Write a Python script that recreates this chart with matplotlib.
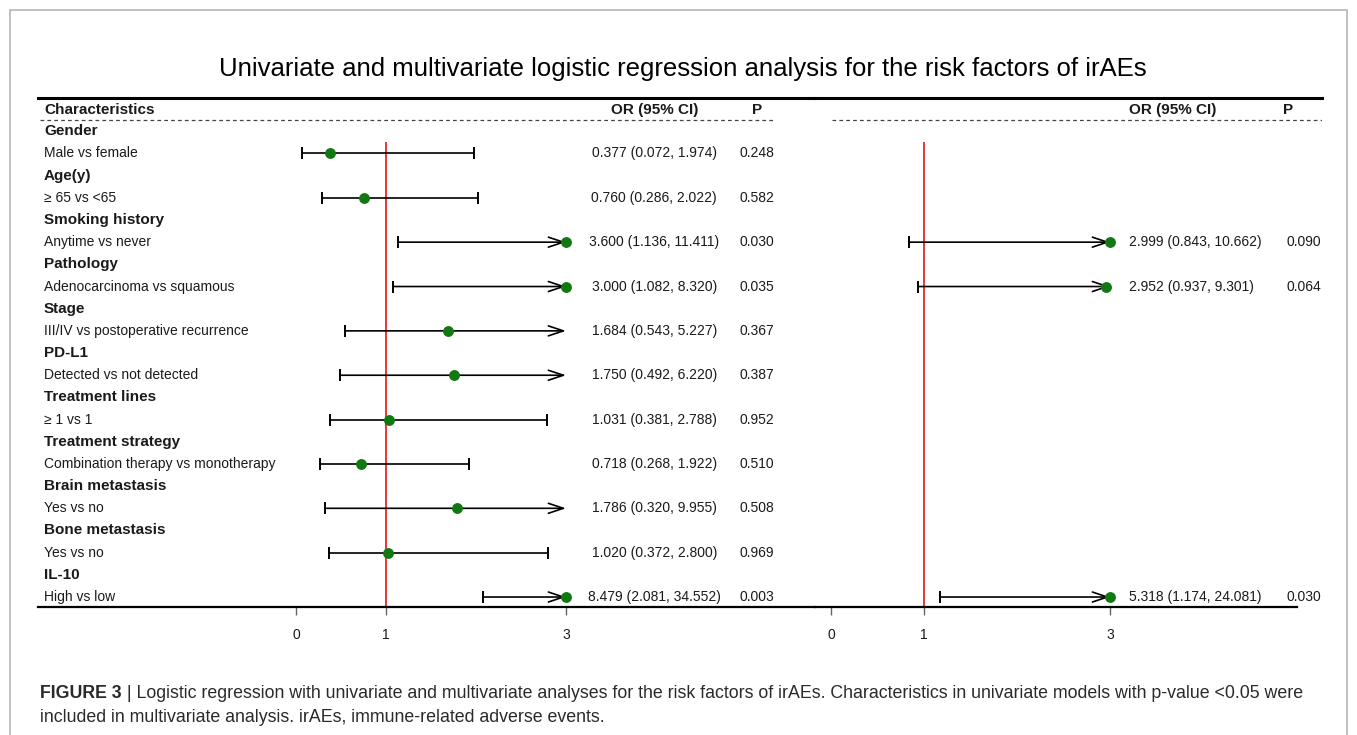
import matplotlib
matplotlib.use("Agg")
import matplotlib.pyplot as plt
from matplotlib import font_manager
from matplotlib.patches import Rectangle

plt.rcParams['font.family'] = ['Liberation Sans', 'DejaVu Sans']

# ---- data ----
groups = ['Gender', 'Age(y)', 'Smoking history', 'Pathology', 'Stage', 'PD-L1',
          'Treatment lines', 'Treatment strategy', 'Brain metastasis',
          'Bone metastasis', 'IL-10']
items = ['Male vs female', '≥ 65 vs <65', 'Anytime vs never',
         'Adenocarcinoma vs squamous', 'III/IV vs postoperative recurrence',
         'Detected vs not detected', '≥ 1 vs 1',
         'Combination therapy vs monotherapy', 'Yes vs no', 'Yes vs no',
         'High vs low']
uni_or = [0.377, 0.760, 3.600, 3.000, 1.684, 1.750, 1.031, 0.718, 1.786, 1.020, 8.479]
uni_lo = [0.072, 0.286, 1.136, 1.082, 0.543, 0.492, 0.381, 0.268, 0.320, 0.372, 2.081]
uni_hi = [1.974, 2.022, 11.411, 8.320, 5.227, 6.220, 2.788, 1.922, 9.955, 2.800, 34.552]
uni_p = ['0.248', '0.582', '0.030', '0.035', '0.367', '0.387', '0.952', '0.510',
         '0.508', '0.969', '0.003']

# multivariate model: only the factors with p < 0.05 in univariate
multi_idx = [2, 3, 10]
multi_or = [2.999, 2.952, 5.318]
multi_lo = [0.843, 0.937, 1.174]
multi_hi = [10.662, 9.301, 24.081]
multi_p = ['0.090', '0.064', '0.030']

xticks = [0, 1, 3]
x_cap = 3  # axis is cut at 3, longer intervals get an arrow

W, H = 1357, 735
fig = plt.figure(figsize=(W / 100, H / 100), dpi=100)

GREEN = '#127812'
RED = '#e8262a'
TXT = '#1a1a1a'


def px_box(x0, x1, y_top, y_bot):
    return [x0 / W, 1 - y_bot / H, (x1 - x0) / W, (y_bot - y_top) / H]


def row_of_item(i):
    return 2 * i + 2


def draw_ci(ax, y, est, lo, hi):
    right = min(hi, x_cap)
    if hi > x_cap:
        ax.annotate('', xy=(x_cap, y), xytext=(lo, y),
                    arrowprops=dict(arrowstyle='->,head_length=0.6,head_width=0.2',
                                    lw=1.2, color='black', shrinkA=0, shrinkB=0,
                                    mutation_scale=18))
    else:
        ax.plot([lo, right], [y, y], color='black', lw=1.2, zorder=2)
        ax.plot(right, y, marker='|', ms=8, mew=1.4, color='black', zorder=2)
    ax.plot(lo, y, marker='|', ms=8, mew=1.4, color='black', zorder=2)
    ax.plot(min(est, x_cap), y, 'o', ms=6.8, color=GREEN, zorder=4)


def setup_axis(ax, xlim, spine_hi=None):
    ax.set_xlim(*xlim)
    ax.set_ylim(22.45, -0.5)
    for s in ['left', 'right']:
        ax.spines[s].set_visible(False)
    ax.spines['top'].set_linewidth(2.2)
    ax.spines['bottom'].set_linewidth(1.6)
    if spine_hi is not None:
        ax.spines['bottom'].set_bounds(xlim[0], spine_hi)
    ax.set_yticks([])
    ax.set_xticks(xticks)
    ax.set_xticklabels([str(t) for t in xticks])
    ax.tick_params(axis='x', direction='out', length=6, width=1, color='#666666',
                   labelsize=10, pad=9, labelcolor=TXT)
    ax.patch.set_alpha(0)


# ---- left panel: univariate ----
axL = fig.add_axes(px_box(38, 815, 98, 607))
setup_axis(axL, ((38 - 296) / 90, (815 - 296) / 90))
axL.vlines(1, 1.5, 22.45, color=RED, lw=1.3, zorder=1)
axL.plot([-2.84, 5.3], [0.5, 0.5], ls=(0, (3, 2.5)), color='#444444', lw=0.9)

axL.text(-2.8, 0.05, 'Characteristics', weight='bold', fontsize=11, va='center', color=TXT)
axL.text(3.98, 0.05, 'OR (95% CI)', weight='bold', fontsize=11, va='center', ha='center', color=TXT)
axL.text(5.12, 0.05, 'P', weight='bold', fontsize=11, va='center', ha='center', color=TXT)

for i in range(len(groups)):
    y = row_of_item(i)
    axL.text(-2.8, y - 1, groups[i], weight='bold', fontsize=11, va='center', color=TXT)
    axL.text(-2.8, y, items[i], fontsize=10, va='center', color=TXT)
    draw_ci(axL, y, uni_or[i], uni_lo[i], uni_hi[i])
    axL.text(3.98, y, '%.3f (%.3f, %.3f)' % (uni_or[i], uni_lo[i], uni_hi[i]),
             fontsize=10, va='center', ha='center', color=TXT)
    axL.text(5.12, y, uni_p[i], fontsize=10, va='center', ha='center', color=TXT)

# ---- right panel: multivariate ----
axR = fig.add_axes(px_box(815, 1322, 98, 607))
setup_axis(axR, ((815 - 831) / 93, (1322 - 831) / 93), spine_hi=(1297 - 831) / 93)
axR.vlines(1, 1.5, 22.45, color=RED, lw=1.3, zorder=1)
axR.plot([0.01, 5.28], [0.5, 0.5], ls=(0, (3, 2.5)), color='#444444', lw=0.9)
axR.text(3.2, 0.05, 'OR (95% CI)', weight='bold', fontsize=11, va='center', color=TXT)
axR.text(4.86, 0.05, 'P', weight='bold', fontsize=11, va='center', color=TXT)

for k, i in enumerate(multi_idx):
    y = row_of_item(i)
    draw_ci(axR, y, multi_or[k], multi_lo[k], multi_hi[k])
    axR.text(3.2, y, '%.3f (%.3f, %.3f)' % (multi_or[k], multi_lo[k], multi_hi[k]),
             fontsize=10, va='center', color=TXT, clip_on=False)
    axR.text(4.9, y, multi_p[k], fontsize=10, va='center', color=TXT, clip_on=False)

# ---- title, frame, caption ----
fig.text(683 / W, 1 - 69 / H,
         'Univariate and multivariate logistic regression analysis for the risk factors of irAEs',
         ha='center', va='center', fontsize=18.5, color='black')

fig.add_artist(Rectangle((10 / W, -0.05), (1347 - 10) / W, 1 - 10 / H + 0.05,
                         transform=fig.transFigure, fill=False,
                         edgecolor='#b5b5b5', lw=1.2))

try:
    font_manager.findfont('Liberation Sans Narrow', fallback_to_default=False)
    cap_font = ['Liberation Sans Narrow', 'DejaVu Sans']
except Exception:
    cap_font = ['Liberation Sans', 'DejaVu Sans']

cap1 = ' | Logistic regression with univariate and multivariate analyses for the risk factors of irAEs. Characteristics in univariate models with p-value <0.05 were'
cap2 = 'included in multivariate analysis. irAEs, immune-related adverse events.'
CAPC = '#2a2a2a'
size = 12
t_bold = fig.text(40 / W, 1 - 693 / H, 'FIGURE 3', weight='bold', fontsize=size,
                  va='center', family=cap_font, color=CAPC)
t_rest = fig.text(0, 1 - 693 / H, cap1, fontsize=size, va='center', family=cap_font, color=CAPC)
t_line2 = fig.text(40 / W, 1 - 718 / H, cap2, fontsize=size, va='center', family=cap_font, color=CAPC)

# scale the caption so its first line spans the same width as in the figure
r = fig.canvas.get_renderer()
wtot = t_bold.get_window_extent(r).width + t_rest.get_window_extent(r).width
size = size * 1267 / wtot
for t in (t_bold, t_rest, t_line2):
    t.set_fontsize(size)
wb = t_bold.get_window_extent(r).width
t_rest.set_x((40 + wb) / W)

fig.savefig('out.png', dpi=100)
